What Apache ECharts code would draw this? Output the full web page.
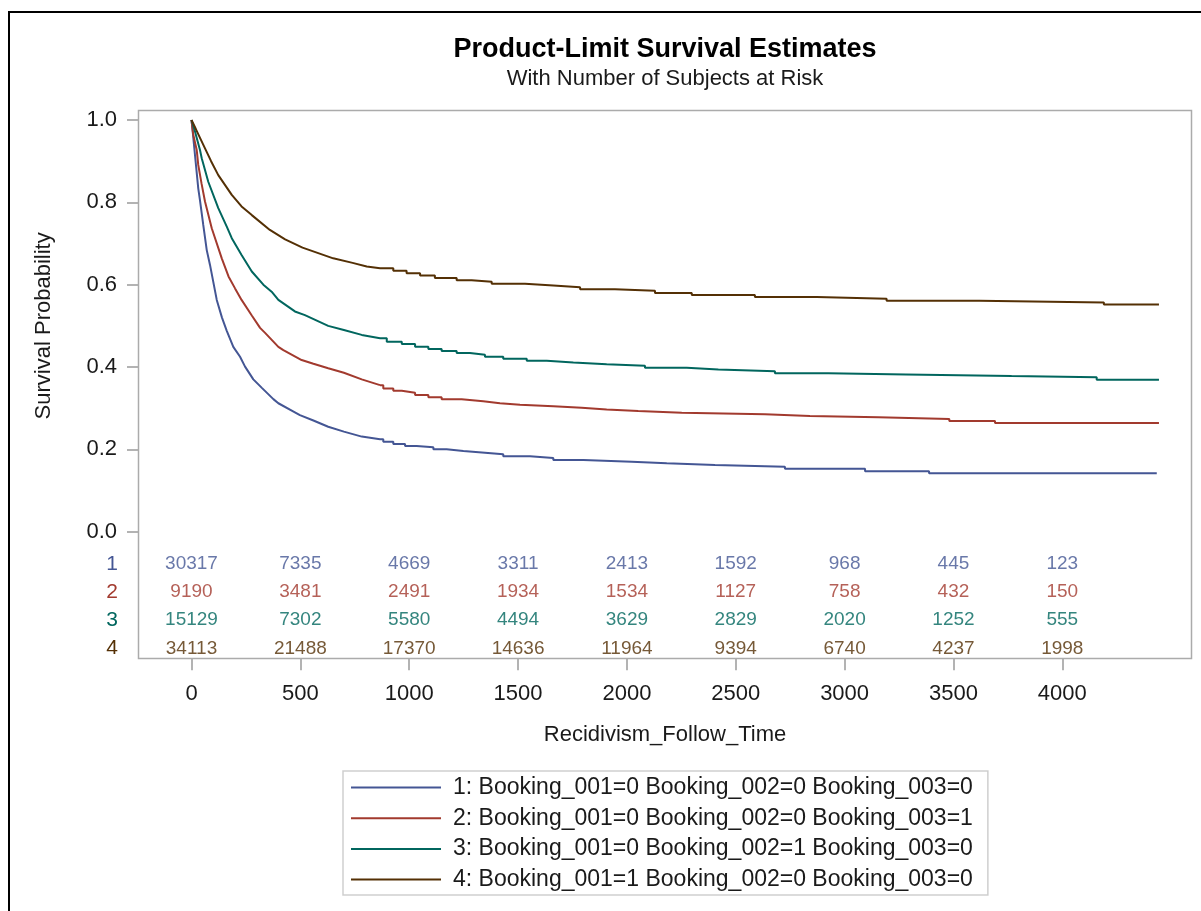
<!DOCTYPE html>
<html><head><meta charset="utf-8">
<script src="https://cdn.jsdelivr.net/npm/echarts@6/dist/echarts.min.js"></script>
<style>html,body{margin:0;padding:0;background:#fff}#c{width:1201px;height:911px}</style>
</head><body><div id="c"></div><script>
// ---- data ----
const seriesNames = [
  '1: Booking_001=0 Booking_002=0 Booking_003=0',
  '2: Booking_001=0 Booking_002=0 Booking_003=1',
  '3: Booking_001=0 Booking_002=1 Booking_003=0',
  '4: Booking_001=1 Booking_002=0 Booking_003=0'
];
const colors = ['#445694', '#A23A2E', '#01665E', '#543005'];

const t1 = [0,4,16,31,39,54,70,85,116,140,162,192,223,246,284,322,376,399,475,498,560,628,700,782,866,881,927,981,1034,1111,1172,1249,1348,1432,1555,1662,1800,2022,2183,2405,2726,3094,3388,4434];
const s1 = [1.0,0.98,0.915,0.834,0.805,0.745,0.684,0.648,0.563,0.52,0.488,0.449,0.425,0.401,0.370,0.350,0.322,0.312,0.290,0.283,0.270,0.255,0.243,0.231,0.2244,0.2186,0.213,0.208,0.205,0.200,0.196,0.192,0.188,0.183,0.179,0.174,0.170,0.166,0.162,0.158,0.153,0.147,0.142,0.142];

const t2 = [0,8,24,31,46,62,93,139,170,200,230,277,315,338,399,422,506,560,628,700,782,866,881,927,966,1027,1088,1149,1241,1340,1417,1509,1662,1792,1907,2052,2252,2634,2841,3155,3481,3691,4444];
const s2 = [1.0,0.964,0.927,0.891,0.846,0.802,0.737,0.664,0.62,0.591,0.563,0.525,0.495,0.483,0.449,0.441,0.417,0.408,0.397,0.386,0.370,0.356,0.348,0.3425,0.3377,0.332,0.3265,0.3215,0.3167,0.312,0.3085,0.305,0.301,0.297,0.293,0.289,0.285,0.281,0.278,0.274,0.269,0.264,0.264];

const t3 = [0,16,39,47,77,123,162,185,230,277,330,368,399,475,521,628,700,782,866,897,966,1027,1088,1149,1218,1279,1348,1432,1540,1632,1754,1907,2083,2275,2420,2680,2925,3282,3767,4158,4444];
const s3 = [1.0,0.972,0.927,0.907,0.850,0.786,0.741,0.713,0.672,0.632,0.600,0.583,0.563,0.535,0.526,0.500,0.490,0.478,0.470,0.4615,0.456,0.449,0.444,0.439,0.434,0.430,0.425,0.420,0.415,0.411,0.407,0.403,0.398,0.394,0.390,0.385,0.382,0.378,0.375,0.369,0.369];

const t4 = [0,20,62,90,123,185,230,277,360,430,510,651,740,805,866,927,988,1050,1118,1218,1287,1379,1532,1662,1785,1945,2129,2298,2588,2872,3193,3619,4191,4444];
const s4 = [1.0,0.978,0.931,0.90,0.866,0.818,0.79,0.769,0.733,0.71,0.690,0.664,0.653,0.644,0.640,0.634,0.628,0.622,0.616,0.611,0.607,0.602,0.598,0.594,0.589,0.585,0.580,0.575,0.570,0.566,0.561,0.557,0.552,0.552];

// time beyond which individual steps are visible in the reference
const stepFrom = 866;

const riskTimes = [0,500,1000,1500,2000,2500,3000,3500,4000];
const risk1 = [30317,7335,4669,3311,2413,1592,968,445,123];
const risk2 = [9190,3481,2491,1934,1534,1127,758,432,150];
const risk3 = [15129,7302,5580,4494,3629,2829,2020,1252,555];
const risk4 = [34113,21488,17370,14636,11964,9394,6740,4237,1998];
const riskRows = ['1','2','3','4'];
const xTicks = [0,500,1000,1500,2000,2500,3000,3500,4000];

// ---- build ----
const FONT = "'Liberation Sans', Arial, sans-serif";
const times = [t1,t2,t3,t4], surv = [s1,s2,s3,s4], risks = [risk1,risk2,risk3,risk4];
const zip = (a,b) => a.map((v,i) => [v, b[i]]);

const series = [];
for (let k = 0; k < 4; k++) {
  const pts = zip(times[k], surv[k]);
  const early = pts.filter(p => p[0] <= stepFrom);
  const late = pts.filter(p => p[0] >= stepFrom);
  const common = { name: seriesNames[k], type: 'line', showSymbol: false, symbol: 'none',
    xAxisIndex: 0, yAxisIndex: 0, lineStyle: { color: colors[k], width: 2 },
    itemStyle: { color: colors[k] }, animation: false };
  series.push(Object.assign({}, common, { data: early }));
  series.push(Object.assign({}, common, { step: 'end', data: late }));
}
for (let k = 0; k < 4; k++) {
  series.push({
    name: 'risk' + (k+1), type: 'scatter', xAxisIndex: 1, yAxisIndex: 1,
    symbol: 'circle', symbolSize: 1, itemStyle: { color: 'rgba(0,0,0,0)' }, silent: true,
    data: riskTimes.map((t,i) => [t, riskRows[k], risks[k][i]]),
    label: { show: true, position: 'inside', formatter: p => String(p.value[2]),
             color: colors[k], fontSize: 19, fontFamily: FONT },
    animation: false
  });
}

const rich = {};
colors.forEach((c,i) => { rich['c'+i] = { color: c, fontSize: 21, fontFamily: FONT }; });

// plot frame spans x = 138..1192 px; time 0 sits at 191.5 px, 4000 at 1062.3 px
const xMin = -245.75, xMax = 4595.8;
const chart = echarts.init(document.getElementById('c'), null, { renderer: 'canvas' });
chart.setOption({
  animation: false,
  backgroundColor: '#fff',
  textStyle: { fontFamily: FONT },
  title: [
    { text: 'Product-Limit Survival Estimates', left: 665, top: 36, textAlign: 'center', padding: 0,
      textStyle: { fontSize: 27, fontWeight: 'bold', color: '#000', fontFamily: FONT } },
    { text: 'With Number of Subjects at Risk', left: 665, top: 68, textAlign: 'center', padding: 0,
      textStyle: { fontSize: 22, fontWeight: 'normal', color: '#1a1a1a', fontFamily: FONT } }
  ],
  grid: [
    { left: 138, top: 120, width: 1054, height: 411.7 },
    { left: 138, top: 564, width: 1054, height: 84.3 }
  ],
  xAxis: [
    { type: 'value', gridIndex: 0, min: xMin, max: xMax, show: false },
    { type: 'value', gridIndex: 1, min: xMin, max: xMax, offset: 10,
      axisLine: { show: false, onZero: false }, splitLine: { show: false },
      axisTick: { show: true, length: 12, customValues: xTicks, lineStyle: { color: '#9a9a9a', width: 1.5 } },
      axisLabel: { fontSize: 22, color: '#1a1a1a', margin: 25, fontFamily: FONT, customValues: xTicks,
                   formatter: v => String(v) },
      name: 'Recidivism_Follow_Time', nameLocation: 'middle', nameGap: 66,
      nameTextStyle: { fontSize: 22, color: '#1a1a1a', fontFamily: FONT } }
  ],
  yAxis: [
    { type: 'value', gridIndex: 0, min: 0, max: 1, interval: 0.2, position: 'left',
      axisLine: { show: false, onZero: false }, splitLine: { show: false },
      axisTick: { show: true, length: 11, lineStyle: { color: '#9a9a9a', width: 1.5 } },
      axisLabel: { fontSize: 22, color: '#1a1a1a', margin: 21, fontFamily: FONT, formatter: v => v.toFixed(1) },
      name: 'Survival Probability', nameLocation: 'middle', nameGap: 83,
      nameTextStyle: { fontSize: 22, color: '#1a1a1a', fontFamily: FONT } },
    { type: 'category', gridIndex: 1, data: riskRows, inverse: true, boundaryGap: false, position: 'left',
      axisLine: { show: false, onZero: false }, axisTick: { show: false }, splitLine: { show: false },
      axisLabel: { margin: 20, formatter: (v, i) => '{c' + i + '|' + v + '}', rich: rich } }
  ],
  legend: {
    data: seriesNames, orient: 'vertical', left: 343, top: 771,
    icon: 'rect', itemWidth: 90, itemHeight: 2, itemGap: 7.7,
    padding: [5, 15, 4, 8], borderColor: '#cfcfcf', borderWidth: 1.5,
    textStyle: { fontSize: 23, color: '#1a1a1a', fontFamily: FONT, lineHeight: 22, padding: [0,0,0,7] },
    selectedMode: false
  },
  graphic: [
    { type: 'rect', shape: { x: 9, y: 12, width: 1400, height: 1100 }, silent: true,
      style: { fill: 'none', stroke: '#000', lineWidth: 2 } },
    { type: 'rect', shape: { x: 138.5, y: 110.5, width: 1053, height: 548 }, silent: true, z: 10,
      style: { fill: 'none', stroke: '#ababab', lineWidth: 1.5 } }
  ],
  series: series
});
</script></body></html>
